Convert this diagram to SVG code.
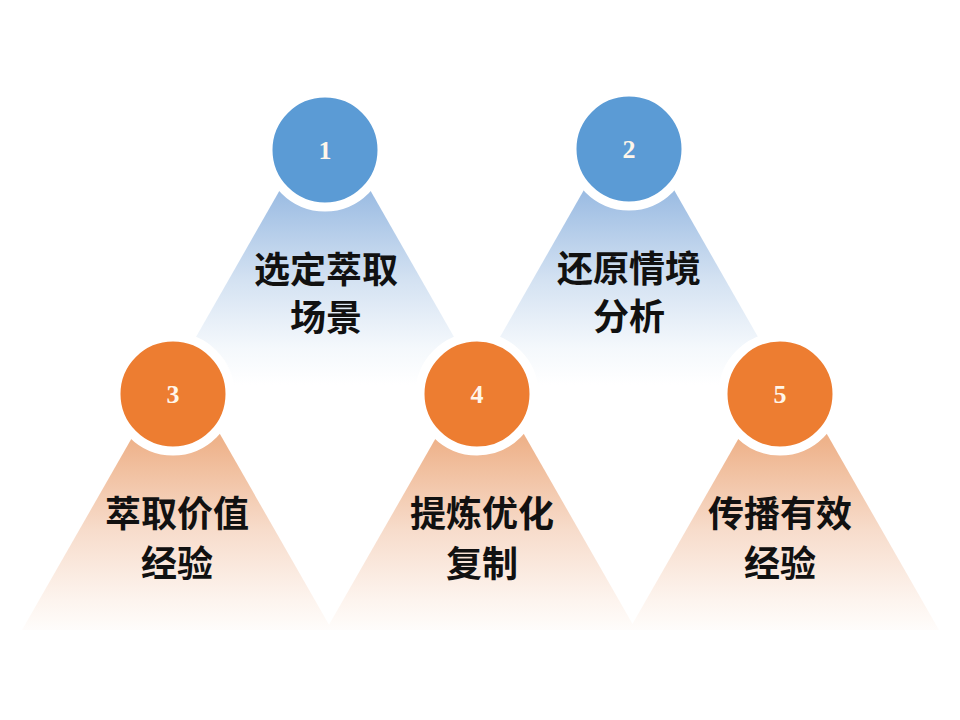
<svg xmlns="http://www.w3.org/2000/svg" width="960" height="720" viewBox="0 0 960 720">
  <defs>
    <linearGradient id="gBlue" gradientUnits="userSpaceOnUse" x1="0" y1="195" x2="0" y2="385">
      <stop offset="0" stop-color="#9dbde3"/>
      <stop offset="0.45" stop-color="#d4e2f2"/>
      <stop offset="0.8" stop-color="#f4f8fc"/>
      <stop offset="1" stop-color="#ffffff"/>
    </linearGradient>
    <linearGradient id="gOrange" gradientUnits="userSpaceOnUse" x1="0" y1="440" x2="0" y2="640">
      <stop offset="0" stop-color="#eeb28a"/>
      <stop offset="0.45" stop-color="#f7dccb"/>
      <stop offset="0.8" stop-color="#fdf4ee"/>
      <stop offset="1" stop-color="#ffffff"/>
    </linearGradient>
    <style>
      .blue { fill: #5b9bd5; stroke: #ffffff; stroke-width: 9; }
      .orange { fill: #ed7d31; stroke: #ffffff; stroke-width: 9; }
      .num { font-family: "Liberation Serif", "DejaVu Serif", serif; font-weight: bold; font-size: 26px; fill: #fff6ea; text-anchor: middle; }
      .lbl { font-family: "Noto Sans CJK SC", "Noto Sans", sans-serif; font-weight: bold; font-size: 36px; fill: #111111; text-anchor: middle; }
    </style>
  </defs>
  <rect x="0" y="0" width="960" height="720" fill="#ffffff"/>

  <g id="node1">
    <polygon points="325,111 160,400 490,400" fill="url(#gBlue)"/>
    <circle class="blue" cx="325" cy="150" r="57"/>
    <text class="num" x="325" y="159">1</text>
    <text class="lbl" x="326" y="283">选定萃取</text>
    <text class="lbl" x="326" y="331">场景</text>
  </g>

  <g id="node2">
    <polygon points="629,111 464,400 794,400" fill="url(#gBlue)"/>
    <circle class="blue" cx="629" cy="149" r="57"/>
    <text class="num" x="629" y="158">2</text>
    <text class="lbl" x="629" y="282">还原情境</text>
    <text class="lbl" x="629" y="330">分析</text>
  </g>

  <g id="node3">
    <polygon points="177,359 22,630 332,630" fill="url(#gOrange)"/>
    <circle class="orange" cx="173" cy="394" r="57"/>
    <text class="num" x="173" y="403">3</text>
    <text class="lbl" x="177" y="527">萃取价值</text>
    <text class="lbl" x="177" y="577">经验</text>
  </g>

  <g id="node4">
    <polygon points="481,359 326,630 636,630" fill="url(#gOrange)"/>
    <circle class="orange" cx="477" cy="394" r="57"/>
    <text class="num" x="477" y="403">4</text>
    <text class="lbl" x="482" y="527">提炼优化</text>
    <text class="lbl" x="482" y="577">复制</text>
  </g>

  <g id="node5">
    <polygon points="784,359 629,630 939,630" fill="url(#gOrange)"/>
    <circle class="orange" cx="780" cy="394" r="57"/>
    <text class="num" x="780" y="403">5</text>
    <text class="lbl" x="780" y="527">传播有效</text>
    <text class="lbl" x="780" y="577">经验</text>
  </g>
</svg>
